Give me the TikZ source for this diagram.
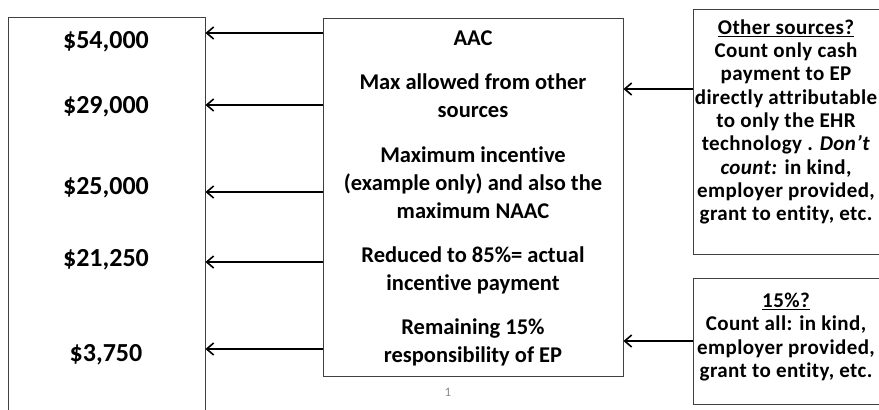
\documentclass[tikz,border=0pt]{standalone}
\usepackage{fontspec}
\setmainfont{Carlito}[Ligatures=NoCommon]
\usetikzlibrary{arrows.meta}

\begin{document}
\begin{tikzpicture}[x=1pt,y=-1pt]
\tikzstyle{every node}+=[inner sep=0pt]
\tikzstyle{box}=[draw=black!75, line width=0.9pt]
\tikzstyle{amount}=[font=\bfseries\fontsize{26pt}{30pt}\selectfont]
\tikzstyle{midtext}=[align=center, font=\bfseries\fontsize{22.5pt}{28pt}\selectfont]
\tikzstyle{sidetext}=[align=center, font=\bfseries\fontsize{21pt}{23.3pt}\selectfont\addfontfeatures{LetterSpace=2}]
\tikzstyle{arr}=[line width=1.6pt, -{Straight Barb[length=7pt,width=12pt]}]
\useasboundingbox (0,0) rectangle (879,410);
\node [box, minimum width=197pt, minimum height=413pt] (amounts) at (106.5,223.5) {};
\node [box, minimum width=300pt, minimum height=358pt] (aacbox) at (473,197) {};
\node [box, minimum width=192pt, minimum height=245pt] (othersrc) at (789,131.5) {};
\node [box, minimum width=192pt, minimum height=126pt] (pctbox) at (789,341) {};
\node [amount] (v54) at (106,42) {\$54,000};
\node [amount] (v29) at (106,107) {\$29,000};
\node [amount] (v25) at (106,188) {\$25,000};
\node [amount] (v21) at (106,260) {\$21,250};
\node [amount] (v3) at (106,355) {\$3,750};
\node [midtext] (aac) at (473,38) {AAC};
\node [midtext] (maxother) at (473,95.5) {Max allowed from other\\sources};
\node [midtext] (maxinc) at (473,183) {Maximum incentive\\(example only) and also the\\maximum NAAC};
\node [midtext] (reduced) at (473,270) {Reduced to 85\%= actual\\incentive payment};
\node [midtext] (remain) at (473,342.5) {Remaining 15\%\\responsibility of EP};
\node [sidetext] (othertxt) at (786,122) {\underline{Other sources?}\\Count only cash\\payment to EP\\directly attributable\\to only the EHR\\technology . \textit{Don’t}\\\textit{count:} in kind,\\employer provided,\\grant to entity, etc.};
\node [sidetext] (pcttxt) at (786,337) {\underline{15\%?}\\Count all: in kind,\\employer provided,\\grant to entity, etc.};
\node [text=black!45, font=\fontsize{13pt}{15pt}\selectfont] (pagenum) at (448,392) {1};
\coordinate (a1) at (0,33);
\coordinate (a2) at (0,105);
\coordinate (a3) at (0,192);
\coordinate (a4) at (0,262);
\coordinate (a5) at (0,349);
\coordinate (b1) at (0,89);
\coordinate (b2) at (0,341);
\draw [arr] (aacbox.west |- a1) -- (amounts.east |- a1);
\draw [arr] (aacbox.west |- a2) -- (amounts.east |- a2);
\draw [arr] (aacbox.west |- a3) -- (amounts.east |- a3);
\draw [arr] (aacbox.west |- a4) -- (amounts.east |- a4);
\draw [arr] (aacbox.west |- a5) -- (amounts.east |- a5);
\draw [arr] (othersrc.west |- b1) -- (aacbox.east |- b1);
\draw [arr] (pctbox.west |- b2) -- (aacbox.east |- b2);
\end{tikzpicture}
\end{document}
